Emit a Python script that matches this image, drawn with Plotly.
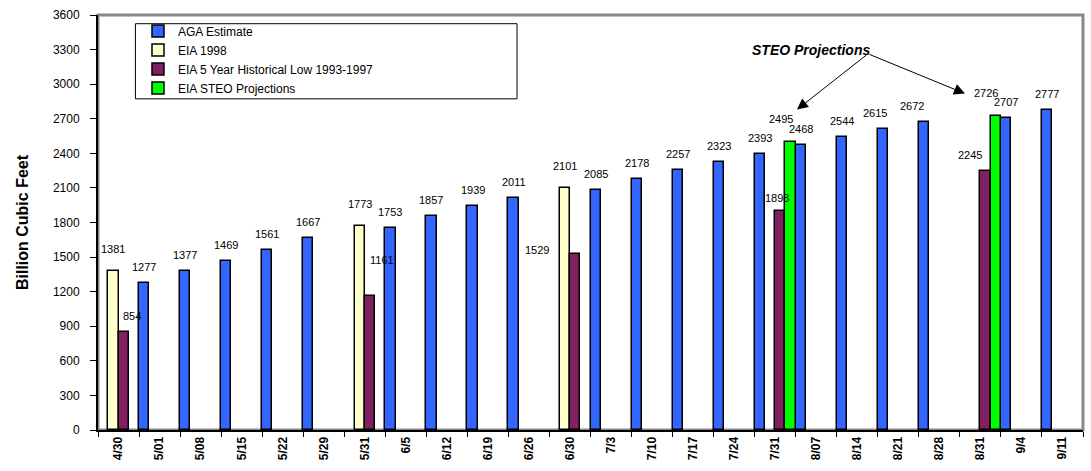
import plotly.graph_objects as go

categories = ["4/30", "5/01", "5/08", "5/15", "5/22", "5/29", "5/31", "6/5", "6/12",
              "6/19", "6/26", "6/30", "7/3", "7/10", "7/17", "7/24", "7/31", "8/07",
              "8/14", "8/21", "8/28", "8/31", "9/4", "9/11"]
aga_estimate = [None, 1277, 1377, 1469, 1561, 1667, None, 1753, 1857, 1939, 2011, None,
                2085, 2178, 2257, 2323, 2393, 2468, 2544, 2615, 2672, None, 2707, 2777]
eia_1998 = [1381, None, None, None, None, None, 1773, None, None, None, None, 2101,
            None, None, None, None, None, None, None, None, None, None, None, None]
eia_5yr_low = [854, None, None, None, None, None, 1161, None, None, None, None, 1529,
               None, None, None, None, 1898, None, None, None, None, 2245, None, None]
eia_steo = [None, None, None, None, None, None, None, None, None, None, None, None,
            None, None, None, None, 2495, None, None, None, None, 2726, None, None]
y_ticks = list(range(0, 3601, 300))

# name, values, colour, default label shift (px: x, y)
series = [
    ("AGA Estimate", aga_estimate, "#3366FF", (0, 8)),
    ("EIA 1998", eia_1998, "#FFFFCC", (0, 14)),
    ("EIA 5 Year Historical Low 1993-1997", eia_5yr_low, "#802060", (0, 8)),
    ("EIA STEO Projections", eia_steo, "#00FF00", (-10, 15)),
]
# a few data labels sit off-centre in the original (px shifts)
label_shift_override = {
    ("EIA 5 Year Historical Low 1993-1997", "4/30"): (8, 8),
    ("EIA 5 Year Historical Low 1993-1997", "5/31"): (12, 28),
    ("EIA 5 Year Historical Low 1993-1997", "6/30"): (-38, -4),
    ("EIA 5 Year Historical Low 1993-1997", "7/31"): (-3, 5),
    ("EIA 5 Year Historical Low 1993-1997", "8/31"): (-16, 8),
    ("AGA Estimate", "8/21"): (-8, 8),
    ("AGA Estimate", "8/28"): (-12, 8),
}

FONT = "Liberation Sans, Arial, sans-serif"
n_series = len(series)
slot = 1.0 / n_series  # bargap = 0, bargroupgap = 0

fig = go.Figure()
for k, (name, vals, color, shift) in enumerate(series):
    fig.add_trace(go.Bar(
        name=name, x=categories, y=vals,
        marker=dict(color=color, line=dict(color="black", width=1.5)),
        cliponaxis=False,
    ))
    offset = -0.5 + (k + 0.5) * slot
    for i, (cat, v) in enumerate(zip(categories, vals)):
        if v is None:
            continue
        dx, dy = label_shift_override.get((name, cat), shift)
        fig.add_annotation(x=i + offset, y=v, xref="x", yref="y", text=str(v),
                           showarrow=False, yanchor="bottom", xanchor="center",
                           xshift=dx, yshift=dy,
                           font=dict(family=FONT, size=11, color="black"))

fig.update_layout(
    width=1091, height=471,
    margin=dict(l=98, r=8, t=13, b=41),
    paper_bgcolor="white", plot_bgcolor="white",
    barmode="group", bargap=0, bargroupgap=0,
    font=dict(family=FONT, color="black"),
    showlegend=True,
    legend=dict(x=0.0406, y=0.9966, xanchor="left", yanchor="top",
                bgcolor="rgba(0,0,0,0)", borderwidth=0,
                font=dict(family=FONT, size=12, color="black"),
                tracegroupgap=0),
)

fig.update_xaxes(
    type="category", range=[-0.5, len(categories) - 0.5],
    showline=True, linecolor="black", linewidth=2,
    ticks="outside", tickson="boundaries", ticklen=5, tickcolor="black", tickwidth=1,
    tickangle=-90, tickfont=dict(family=FONT, size=12, color="black", weight="bold"),
    showgrid=False, zeroline=False,
)
fig.update_yaxes(
    range=[0, 3600], tickvals=y_ticks,
    showline=True, linecolor="black", linewidth=2,
    ticks="outside", ticklen=6, tickcolor="black", tickwidth=1,
    ticklabelstandoff=8,
    tickfont=dict(family=FONT, size=12, color="black"),
    showgrid=False, zeroline=False,
    title=dict(text="Billion Cubic Feet", standoff=20,
               font=dict(family=FONT, size=16, color="black", weight="bold")),
)

# plot frame (grey top/right border) and legend box
fig.add_shape(type="rect", xref="paper", yref="paper", x0=0, x1=1, y0=0, y1=1,
              line=dict(color="#888888", width=3), layer="below")
fig.add_shape(type="rect", xref="paper", yref="paper", x0=0.038, x1=0.4254, y0=0.798, y1=0.979,
              line=dict(color="black", width=1), fillcolor="rgba(0,0,0,0)")

# STEO annotation with arrows
fig.add_annotation(xref="paper", yref="paper", x=0.7858, y=0.94, text="<b><i>STEO Projections</i></b>",
                   showarrow=False, font=dict(family=FONT, size=14, color="black"))
for hx, hy in [(0.7096, 0.7722), (0.8802, 0.8106)]:
    fig.add_annotation(xref="x domain", yref="y domain", x=hx, y=hy,
                       axref="x domain", ayref="y domain", ax=0.7817, ay=0.9065,
                       text="", showarrow=True, arrowhead=2, arrowsize=2.2,
                       arrowwidth=1, arrowcolor="black", standoff=0)

fig.write_html("out.html")
